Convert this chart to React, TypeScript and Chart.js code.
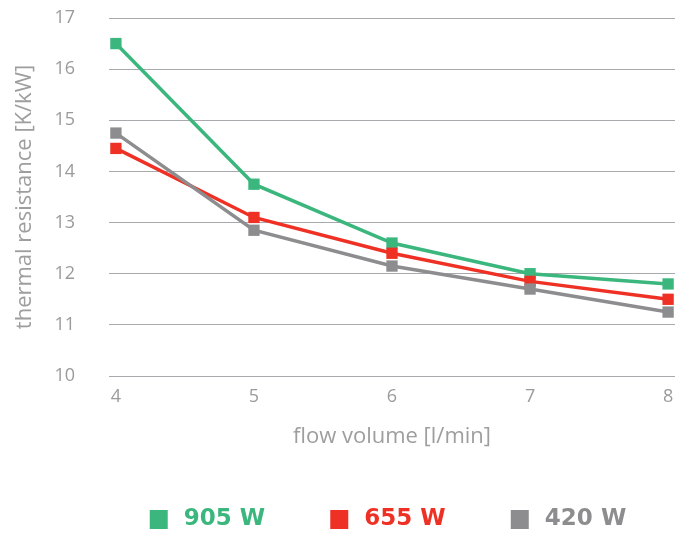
import React, { useEffect, useRef } from "react";
import { Chart, registerables } from "chart.js";

Chart.register(...registerables);

const flowVolumes = [4, 5, 6, 7, 8];
const xTicks = [4, 5, 6, 7, 8];
const seriesNames = ["905 W", "655 W", "420 W"];
const series905 = [16.5, 13.75, 12.6, 12.0, 11.8];
const series655 = [14.45, 13.1, 12.4, 11.85, 11.5];
const series420 = [14.75, 12.85, 12.15, 11.7, 11.25];
const seriesColors = ["#3bb77e", "#ee3124", "#8d8d8f"];
const yMin = 10;
const yMax = 17;
const xTitle = "flow volume [l/min]";
const yTitle = "thermal resistance [K/kW]";

const FONT = "'Open Sans', sans-serif";
const LEGEND_FONT = "'DejaVu Sans', sans-serif";

export default function App() {
  const canvasRef = useRef<HTMLCanvasElement | null>(null);

  useEffect(() => {
    const canvas = canvasRef.current;
    if (!canvas) return;
    const values = [series905, series655, series420];
    const datasets = values.map((vals, i) => ({
      label: seriesNames[i],
      data: vals.map((y, j) => ({ x: flowVolumes[j], y })),
      borderColor: seriesColors[i],
      backgroundColor: seriesColors[i],
      borderWidth: 3.5,
      pointStyle: "rect" as const,
      pointRadius: 8,
      pointHoverRadius: 8,
      pointBorderWidth: 0,
      tension: 0,
      order: 3 - i,
    }));

    const chart = new Chart(canvas, {
      type: "line",
      data: { datasets },
      options: {
        animation: false,
        responsive: true,
        maintainAspectRatio: false,
        layout: { padding: { left: 10, right: 14, top: 18, bottom: -6 } },
        plugins: {
          tooltip: { enabled: false },
          legend: {
            position: "bottom",
            fullSize: false,
            labels: {
              boxWidth: 18,
              boxHeight: 19,
              padding: 25,
              font: { family: LEGEND_FONT, size: 23, weight: "bold" },
              generateLabels: (c: any) =>
                c.data.datasets.map((ds: any, i: number) => ({
                  text:
                    "\u2009" +
                    seriesNames[i] +
                    (i < seriesNames.length - 1 ? " ".repeat(5) : " "),
                  fillStyle: ds.borderColor,
                  strokeStyle: ds.borderColor,
                  fontColor: ds.borderColor,
                  lineWidth: 0,
                  hidden: false,
                  datasetIndex: i,
                })),
            },
          },
        },
        scales: {
          x: {
            type: "linear",
            min: 3.95,
            max: 8.05,
            afterBuildTicks: (axis: any) => {
              axis.ticks = xTicks.map((v) => ({ value: v }));
            },
            afterFit: (axis: any) => {
              axis.height = 107;
              axis.paddingLeft = 0;
              axis.paddingRight = 0;
            },
            grid: { display: false, drawTicks: false },
            border: { display: false },
            ticks: {
              color: "#9b9b9b",
              padding: 10,
              font: { family: FONT, size: 18 },
              callback: (v: any) => String(v),
            },
            title: {
              display: true,
              text: xTitle,
              color: "#9e9e9e",
              font: { family: FONT, size: 22 },
              padding: { top: 17, bottom: 33 },
            },
          },
          y: {
            min: yMin,
            max: yMax,
            afterFit: (axis: any) => {
              axis.width = 99;
              axis.paddingTop = 0;
              axis.paddingBottom = 0;
            },
            grid: { color: "#a7a9ac", lineWidth: 1, drawTicks: false },
            border: { display: false },
            ticks: {
              stepSize: 1,
              color: "#9b9b9b",
              padding: 34,
              font: { family: FONT, size: 18 },
            },
            title: {
              display: true,
              text: yTitle,
              color: "#9e9e9e",
              font: { family: FONT, size: 22 },
              padding: { top: 2, bottom: 10 },
            },
          },
        },
      },
    });
    return () => chart.destroy();
  }, []);

  return (
    <div style={{ position: "absolute", left: 0, top: 0, width: 689, height: 535 }}>
      <canvas ref={canvasRef} />
    </div>
  );
}
